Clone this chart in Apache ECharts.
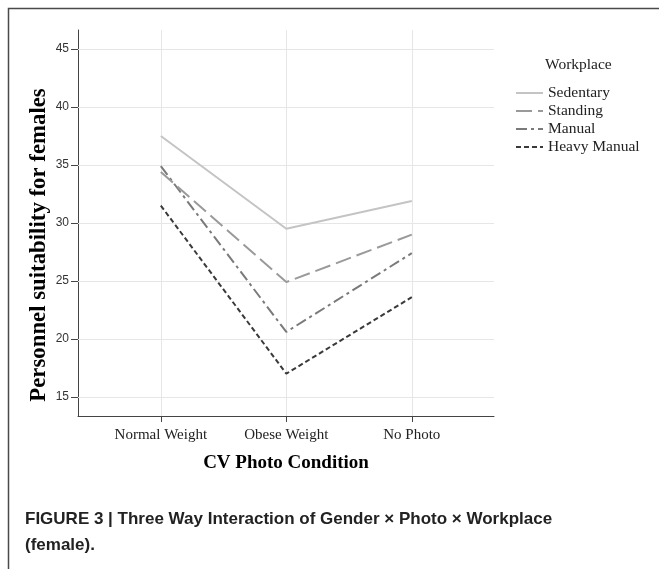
<!DOCTYPE html>
<html>
<head>
<meta charset="utf-8">
<script src="https://cdn.jsdelivr.net/npm/echarts@6/dist/echarts.min.js"></script>
<style>
html,body{margin:0;padding:0;background:#fff;}
#chart{width:659px;height:569px;}
</style>
</head>
<body>
<div id="chart"></div>
<script>
const categories = ['Normal Weight', 'Obese Weight', 'No Photo'];
const yTicks = [15, 20, 25, 30, 35, 40, 45];
const seriesNames = ['Sedentary', 'Standing', 'Manual', 'Heavy Manual'];
const sedentary = [37.5, 29.5, 31.9];
const standing = [34.4, 24.9, 29.0];
const manual = [34.9, 20.6, 27.4];
const heavyManual = [31.5, 17.0, 23.6];

const seriesValues = [sedentary, standing, manual, heavyManual];
const colors = ['#c4c4c4', '#9a9a9a', '#7a7a7a', '#3a3a3a'];
const dashes = ['solid', [16, 6], [11, 4, 3, 4], [5, 3]];
const catIdx = categories.map((c, i) => i);

const chart = echarts.init(document.getElementById('chart'));
const serifFont = '"Liberation Serif", "Times New Roman", serif';

const series = seriesNames.map((name, s) => ({
  name: name,
  type: 'line',
  symbol: 'none',
  data: seriesValues[s].map((v, i) => [catIdx[i], v]),
  lineStyle: { color: colors[s], width: 2, type: dashes[s] },
  itemStyle: { color: colors[s] },
  z: 10 - s
}));

chart.setOption({
  animation: false,
  grid: { left: 78, top: 30, right: 165, bottom: 153 },
  xAxis: {
    type: 'value',
    min: -0.66,
    max: 2.655,
    name: 'CV Photo Condition',
    nameLocation: 'middle',
    nameGap: 38,
    nameMoveOverlap: false,
    nameTextStyle: { fontFamily: serifFont, fontWeight: 'bold', fontSize: 19, color: '#000' },
    axisLine: { show: true, onZero: false, lineStyle: { color: '#444', width: 1 } },
    axisTick: { show: true, customValues: catIdx, length: 6, lineStyle: { color: '#444' } },
    axisLabel: {
      customValues: catIdx,
      formatter: v => categories[Math.round(v)],
      fontFamily: serifFont, fontSize: 15, color: '#222', margin: 12
    },
    splitLine: { show: false }
  },
  yAxis: {
    type: 'value',
    min: 13.35,
    max: 46.65,
    name: 'Personnel suitability for females',
    nameLocation: 'middle',
    nameGap: 27,
    nameMoveOverlap: false,
    nameTextStyle: { fontFamily: serifFont, fontWeight: 'bold', fontSize: 22.8, color: '#000', padding: [0, 44, 0, 0] },
    axisLine: { show: true, onZero: false, lineStyle: { color: '#444', width: 1 } },
    axisTick: { show: true, customValues: yTicks, length: 7, lineStyle: { color: '#444' } },
    axisLabel: { customValues: yTicks, fontFamily: 'Arial, "Liberation Sans", sans-serif', fontSize: 12, color: '#333', margin: 9 },
    splitLine: { show: false }
  },
  legend: {
    orient: 'vertical',
    left: 515,
    top: 85,
    padding: 0,
    itemWidth: 27,
    itemHeight: 10,
    itemGap: 2,
    data: seriesNames,
    itemStyle: { opacity: 0 },
    textStyle: { fontFamily: serifFont, fontSize: 15.5, color: '#222' }
  },
  graphic: [
    { type: 'rect', shape: { x: 8.5, y: 8.5, width: 700, height: 700 }, style: { fill: null, stroke: '#4a4a4a', lineWidth: 1.5 }, silent: true },
    { type: 'text', left: 545, top: 57, style: { text: 'Workplace', font: '15.5px "Liberation Serif", serif', fill: '#222' } },
    { type: 'text', left: 25, top: 507, style: { text: 'FIGURE 3 | Three Way Interaction of Gender \u00d7 Photo \u00d7 Workplace\n(female).', font: 'bold 17px Arial, "Liberation Sans", sans-serif', fill: '#222', lineHeight: 25.5 } }
  ],
  series: series.concat([{
    type: 'line',
    name: '__grid',
    symbol: 'none',
    silent: true,
    data: [],
    markLine: {
      silent: true,
      symbol: 'none',
      label: { show: false },
      lineStyle: { color: '#e6e6e6', width: 1, type: 'solid' },
      data: catIdx.map(i => ({ xAxis: i })).concat(yTicks.map(t => ({ yAxis: t })))
    },
    z: 1
  }])
});
</script>
</body>
</html>
